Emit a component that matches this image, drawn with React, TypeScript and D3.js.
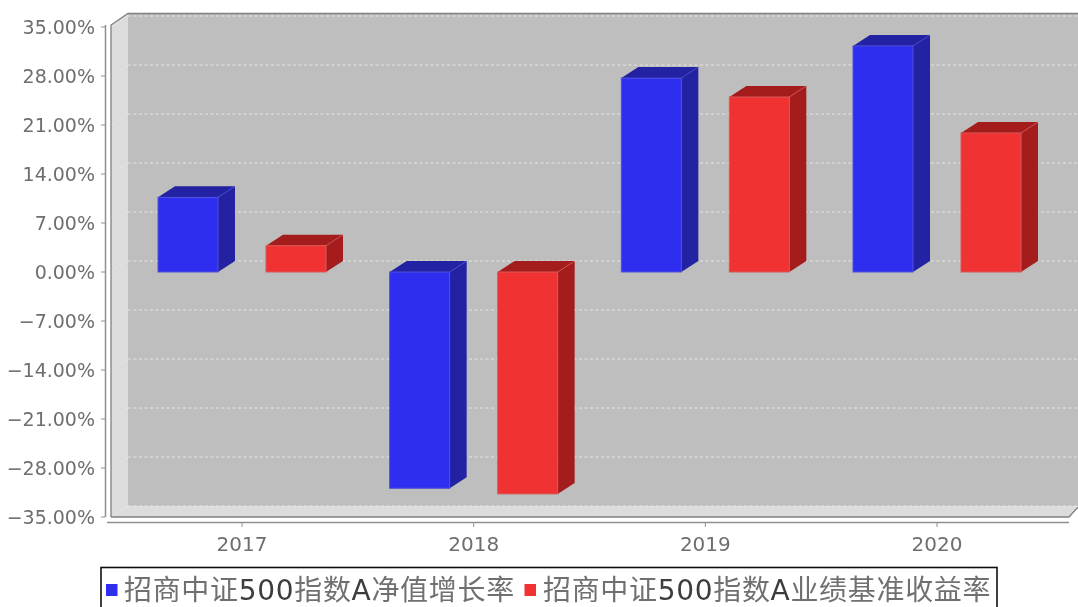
import React from "react";
import * as d3 from "d3";

const categories = ["2017", "2018", "2019", "2020"];
const fundValues = [10.67, -30.9, 27.7, 32.3];
const benchValues = [3.76, -31.7, 25.0, 19.86];
const yTicks = [35, 28, 21, 14, 7, 0, -7, -14, -21, -28, -35];
const legendLabels = [
  [["招商中证", 0], ["500", 1], ["指数", 0], ["A", 1], ["净值增长率", 0]],
  [["招商中证", 0], ["500", 1], ["指数", 0], ["A", 1], ["业绩基准收益率", 0]],
] as [string, number][][];

const W = 1078, H = 607;
const DX = 17, DY = 11;
const y = d3.scaleLinear().domain([-35, 35]).range([517, 27]);
const x = d3.scalePoint<string>().domain(categories).range([242, 937]);
const BAR = 60, GAP = 48;
const LEFT = 111, RIGHT = 1061;
const FONT = "'DejaVu Sans', 'Noto Sans CJK SC', sans-serif";
const BLUE = ["#2E2EF0", "#2020A2", "#5050D8"];
const RED = ["#F03030", "#A41F1F", "#D85858"];

function Bar3D({ cx, v, c }: { cx: number; v: number; c: string[] }) {
  const x0 = cx, x1 = cx + BAR;
  const yt = y(Math.max(v, 0)), yb = y(Math.min(v, 0));
  const poly = (p: number[][]) => p.map((d) => d.join(",")).join(" ");
  return (
    <g>
      <polygon points={poly([[x1, yt], [x1 + DX, yt - DY], [x1 + DX, yb - DY], [x1, yb]])} fill={c[1]} />
      <polygon points={poly([[x0, yt], [x0 + DX, yt - DY], [x1 + DX, yt - DY], [x1, yt]])} fill={c[1]} />
      <rect x={x0} y={yt} width={BAR} height={yb - yt} fill={c[0]} stroke={c[2]} strokeWidth={1} />
      <line x1={x1} y1={yt} x2={x1 + DX} y2={yt - DY} stroke={c[2]} strokeWidth={0.7} />
    </g>
  );
}

export default function App() {
  const top = y(35), bot = y(-35);
  return (
    <svg width={W} height={H} viewBox={`0 0 ${W} ${H}`} style={{ position: "absolute", left: 0, top: 0, background: "#fff" }}>
      <defs>
        <filter id="soft" x="-2%" y="-2%" width="104%" height="104%">
          <feGaussianBlur stdDeviation="0.55" />
        </filter>
      </defs>
      <g filter="url(#soft)">
        <rect x={LEFT + DX} y={top - DY - 2.5} width={W - LEFT - DX} height={bot - top + 2.5} fill="#BEBEBE" />
        <polygon points={`${LEFT},${bot} ${LEFT + DX},${bot - DY} ${W},${bot - DY} ${RIGHT + 8},${bot}`} fill="#DCDCDC" />
        <polygon points={`${LEFT},${top - 2} ${LEFT + DX},${top - DY - 2.5} ${LEFT + DX},${bot - DY} ${LEFT},${bot}`} fill="#DCDCDC" />
        {yTicks.map((t) => (
          <g key={t} stroke="#F2F2F2" strokeWidth={0.9}>
            <line x1={LEFT + DX} x2={W} y1={y(t) - DY} y2={y(t) - DY} strokeDasharray="3 2.5" opacity={0.85} />
            <line x1={LEFT} x2={LEFT + DX} y1={y(t)} y2={y(t) - DY} strokeDasharray="3 2.5" opacity={0.5} />
          </g>
        ))}
        <polyline points={`${LEFT},${bot} ${LEFT},${top - 2} ${LEFT + DX},${top - DY - 2.5} ${W},${top - DY - 2.5}`} fill="none" stroke="#808080" strokeWidth={1.3} />
        <polyline points={`${LEFT},${bot} ${RIGHT + 8},${bot} ${W},${bot - DY + 1}`} fill="none" stroke="#808080" strokeWidth={1.3} />

        {categories.map((c, i) => (
          <g key={c}>
            <Bar3D cx={x(c)! - BAR - GAP / 2} v={fundValues[i]} c={BLUE} />
            <Bar3D cx={x(c)! + GAP / 2} v={benchValues[i]} c={RED} />
          </g>
        ))}

        <line x1={105.5} x2={105.5} y1={top - 2} y2={bot} stroke="#909090" strokeWidth={1.5} />
        {yTicks.map((t) => (
          <g key={t}>
            <line x1={101} x2={105} y1={y(t)} y2={y(t)} stroke="#909090" />
            <text x={95} y={y(t) + 7} textAnchor="end" fontFamily={FONT} fontSize={19} fill="#6E6E6E">
              {(t < 0 ? "\u2212" : "") + Math.abs(t).toFixed(2) + "%"}
            </text>
          </g>
        ))}

        <line x1={107} x2={1069} y1={522.5} y2={522.5} stroke="#909090" strokeWidth={1.5} />
        {categories.map((c) => (
          <g key={c}>
            <line x1={x(c)} x2={x(c)} y1={523} y2={527} stroke="#909090" />
            <text x={x(c)} y={551} textAnchor="middle" fontFamily={FONT} fontSize={20} fill="#6E6E6E">{c}</text>
          </g>
        ))}

        <rect x={101} y={567.5} width={896} height={60} fill="#fff" stroke="#111" strokeWidth={1.6} />
        {[106, 524.5].map((sx, i) => (
          <rect key={sx} x={sx} y={584} width={11.5} height={12} fill={i === 0 ? BLUE[0] : RED[0]} />
        ))}
        {legendLabels.map((parts, i) => (
          <text key={i} x={i === 0 ? 124 : 543} y={600} fontFamily={FONT} fontSize={28} letterSpacing={0.68}>
            {parts.map(([s, dark], j) => (
              <tspan key={j} fill={dark ? "#3C3C3C" : "#707070"}>{s}</tspan>
            ))}
          </text>
        ))}
      </g>
    </svg>
  );
}
